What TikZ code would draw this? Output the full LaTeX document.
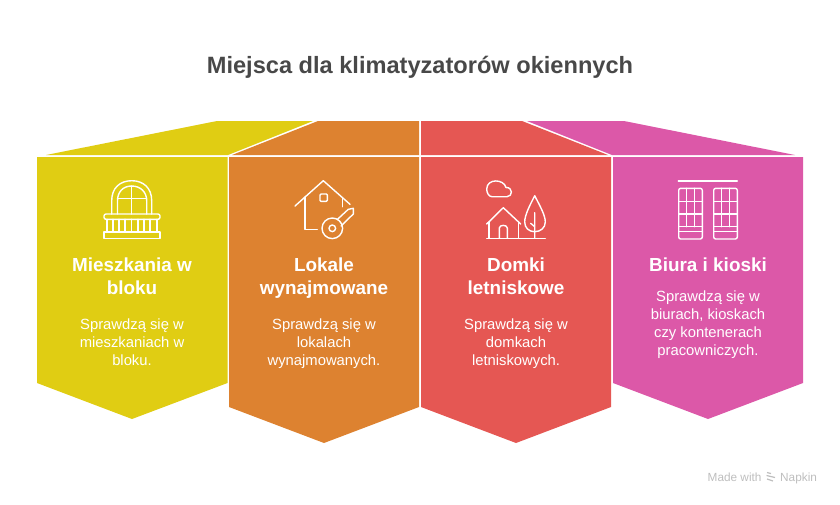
\documentclass[tikz,border=0pt]{standalone}
\usepackage{fontspec}
\setmainfont{Liberation Sans}
\usepackage{xcolor}
\usetikzlibrary{positioning}
\definecolor{titlegray}{RGB}{72, 72, 72}
\definecolor{markgray}{RGB}{190, 190, 190}
\definecolor{blockyellow}{RGB}{224, 205, 19}
\definecolor{blockorange}{RGB}{221, 130, 48}
\definecolor{blockred}{RGB}{229, 87, 83}
\definecolor{blockpink}{RGB}{220, 88, 168}

\begin{document}
\begin{tikzpicture}[
    x=1pt, y=-1pt,
    node distance=10pt and 3pt,
    headtext/.style={text=white, align=center, inner sep=0pt, font=\fontsize{18.9}{23}\selectfont\bfseries},
    bodytext/.style={text=white, align=center, inner sep=0pt, font=\fontsize{14.8}{18}\selectfont},
    marktext/.style={text=markgray, inner sep=0pt, font=\fontsize{11.8}{13}\selectfont},
    icon/.style={draw=white, line width=1.4pt, line join=round, line cap=round}
]
\useasboundingbox (0,0) rectangle (840,504);

% Title
\node[text=titlegray, font=\fontsize{23.6}{28}\selectfont\bfseries, inner sep=0pt] (title) at (420,67.5) {Miejsca dla klimatyzatorów okiennych};

% Blocks
\fill[blockyellow] (46,155) -- (217,121) -- (313,121) -- (228,155) -- cycle;
\fill[blockyellow] (37,157) -- (227.5,157) -- (227.5,383) -- (132,419) -- (37,383) -- cycle;
\fill[blockorange] (232,155) -- (318,121) -- (419,121) -- (419,155) -- cycle;
\fill[blockorange] (229,157) -- (419,157) -- (419,407) -- (324,443) -- (229,407) -- cycle;
\fill[blockred] (421,121) -- (522,121) -- (608,155) -- (421,155) -- cycle;
\fill[blockred] (421,157) -- (611,157) -- (611,407) -- (516,443) -- (421,407) -- cycle;
\fill[blockpink] (527,121) -- (624,121) -- (795,155) -- (612,155) -- cycle;
\fill[blockpink] (613,157) -- (803,157) -- (803,383) -- (708,419) -- (613,383) -- cycle;

% Balcony
\draw[icon] (111.7,214) -- (111.7,200.7) .. controls (111.7,188) and (120,180.7) .. (131.7,180.7) .. controls (143.4,180.7) and (151.7,188) .. (151.7,200.7) -- (151.7,214);
\draw[icon] (117.5,214) -- (117.5,200.7) .. controls (117.5,192) and (123,186) .. (131.7,186) .. controls (140.4,186) and (146.7,192) .. (146.7,200.7) -- (146.7,214);
\draw[icon] (131.5,186) -- (131.5,214) (117.5,198.5) -- (146.7,198.5);
\draw[icon, rounded corners=2pt] (104,214) rectangle (160,219.3);
\draw[icon] (104,232) rectangle (160,238.7);
\draw[icon] (107,219.3) -- (107,232) (113,219.3) -- (113,232) (119,219.3) -- (119,232) (125,219.3) -- (125,232) (131.7,219.3) -- (131.7,232) (138,219.3) -- (138,232) (144,219.3) -- (144,232) (150,219.3) -- (150,232) (157,219.3) -- (157,232);

% House and key
\draw[icon] (295,206) -- (323.3,180.7) -- (350,204.3);
\draw[icon] (305,197) -- (305,229.3) -- (317.3,229.3);
\draw[icon] (342.7,198) -- (342.7,206.7);
\draw[icon, rounded corners=1pt] (320,194) rectangle (327.3,201.3);
\draw[icon] (332.3,228.3) circle (10.3);
\draw[icon] (332.3,228.3) circle (3.3);
\draw[icon] (337.5,219.3) -- (348.3,209.3) -- (353.3,208.3) -- (353.3,214) -- (341,226);

% Cloud, house and tree
\draw[icon] (492,196.7) -- (507,196.7) .. controls (513,196.7) and (513,187) .. (506,187.5) .. controls (504,179) and (487,178) .. (486.7,189) .. controls (486.7,193) and (489,196.7) .. (492,196.7);
\draw[icon] (486.7,224) -- (503.3,207.7) -- (520.7,224);
\draw[icon] (489,222) -- (489,238.3) (518.3,222) -- (518.3,238.3);
\draw[icon] (486.7,238.3) -- (545.3,238.3);
\draw[icon] (499.3,238.3) -- (499.3,228) .. controls (499.3,224.5) and (507.3,224.5) .. (507.3,228) -- (507.3,238.3);
\draw[icon] (534.7,195.7) .. controls (530,205) and (524.7,215) .. (524.7,222) .. controls (524.7,228) and (529,231.7) .. (534.7,231.7) .. controls (540.4,231.7) and (545.3,228) .. (545.3,222) .. controls (545.3,215) and (539.4,205) .. (534.7,195.7);
\draw[icon] (534.7,212.7) -- (534.7,238.3) (530.7,223.3) -- (534.7,226.7);

% Windows
\draw[icon] (678.3,181) -- (737.3,181);
\draw[icon, rounded corners=2pt] (678.7,188.3) rectangle (702.3,239);
\draw[icon, rounded corners=2pt] (713.7,188.3) rectangle (737.3,239);
\draw[icon] (686.7,188.3) -- (686.7,226.7) (694.7,188.3) -- (694.7,226.7) (721.7,188.3) -- (721.7,226.7) (729.7,188.3) -- (729.7,226.7);
\draw[icon] (678.7,201.7) -- (702.3,201.7) (678.7,214) -- (702.3,214) (678.7,226.7) -- (702.3,226.7) (678.7,231.7) -- (702.3,231.7);
\draw[icon] (713.7,201.7) -- (737.3,201.7) (713.7,214) -- (737.3,214) (713.7,226.7) -- (737.3,226.7) (713.7,231.7) -- (737.3,231.7);

% Texts
\node[headtext] (mieszkaniahead) at (132,276.5) {Mieszkania w\\bloku};
\node[bodytext, below=of mieszkaniahead, yshift=-13pt] (mieszkaniabody) {Sprawdzą się w\\mieszkaniach w\\bloku.};
\node[headtext] (lokalehead) at (324,278) {Lokale\\wynajmowane};
\node[bodytext, below=of lokalehead, yshift=-10.5pt] (lokalebody) {Sprawdzą się w\\lokalach\\wynajmowanych.};
\node[headtext] (domkihead) at (516,276.5) {Domki\\letniskowe};
\node[bodytext, below=of domkihead, yshift=-13pt] (domkibody) {Sprawdzą się w\\domkach\\letniskowych.};
\node[headtext] (biurahead) at (708,264.5) {Biura i kioski};
\node[bodytext, below=of biurahead, yshift=-9pt] (biurabody) {Sprawdzą się w\\biurach, kioskach\\czy kontenerach\\pracowniczych.};

% Mark
\node[marktext, anchor=base west] (made) at (707.5,481) {Made with};
\node[marktext, anchor=base west] (napkin) at (780,481) {Napkin};
\draw[markgray, line width=1.2pt] (767,472.5) -- (771,473.5) (766.5,475.5) -- (775,477.5) (767,479) -- (773,481);
\end{tikzpicture}
\end{document}
